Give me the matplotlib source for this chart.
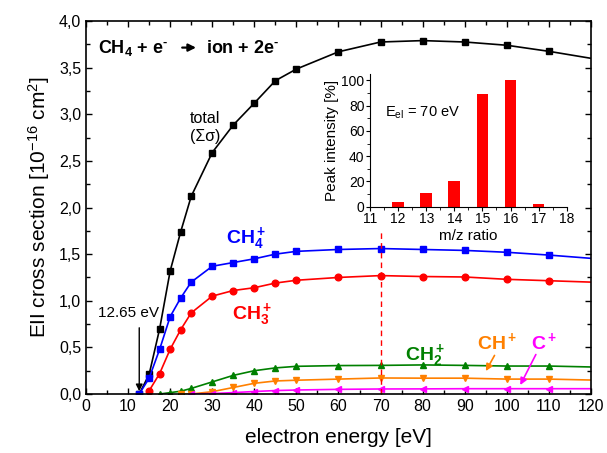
import matplotlib
matplotlib.use("Agg")
import matplotlib.pyplot as plt
from matplotlib.ticker import MultipleLocator, FuncFormatter

plt.rcParams["font.family"] = ["Liberation Sans", "DejaVu Sans"]
plt.rcParams["mathtext.default"] = "regular"

# electron impact ionisation cross sections of CH4 [1e-16 cm^2]
e_total = [12.65, 15, 17.5, 20, 22.5, 25, 30, 35, 40, 45, 50, 60, 70, 80, 90, 100, 110, 120]
sig_total = [0, 0.21, 0.70, 1.32, 1.74, 2.12, 2.59, 2.885, 3.12, 3.36, 3.485, 3.67, 3.775, 3.79,
             3.775, 3.74, 3.675, 3.60]

e_ch4 = [12.65, 15, 17.5, 20, 22.5, 25, 30, 35, 40, 45, 50, 60, 70, 80, 90, 100, 110, 120]
sig_ch4 = [0, 0.17, 0.48, 0.83, 1.03, 1.20, 1.37, 1.41, 1.45, 1.50, 1.53, 1.55, 1.56, 1.55,
           1.54, 1.52, 1.49, 1.455]

e_ch3 = [15, 17.5, 20, 22.5, 25, 30, 35, 40, 45, 50, 60, 70, 80, 90, 100, 110, 120]
sig_ch3 = [0.035, 0.22, 0.48, 0.69, 0.87, 1.05, 1.11, 1.14, 1.19, 1.22, 1.25, 1.27, 1.26,
           1.255, 1.23, 1.215, 1.20]

e_ch2 = [17.5, 20, 22.5, 25, 30, 35, 40, 45, 50, 60, 70, 80, 90, 100, 110, 120]
sig_ch2 = [0.0, 0.015, 0.03, 0.06, 0.13, 0.20, 0.25, 0.28, 0.297, 0.305, 0.307, 0.312, 0.307,
           0.30, 0.30, 0.29]

e_ch = [22.5, 25, 30, 35, 40, 45, 50, 60, 70, 80, 90, 100, 110, 120]
sig_ch = [0.0, 0.0, 0.025, 0.07, 0.115, 0.14, 0.148, 0.16, 0.172, 0.17, 0.17, 0.16, 0.16, 0.15]

e_c = [25, 30, 35, 40, 45, 50, 60, 70, 80, 90, 100, 110, 120]
sig_c = [0.0, 0.005, 0.015, 0.027, 0.037, 0.043, 0.05, 0.054, 0.055, 0.057, 0.057, 0.057, 0.057]

# mass spectrum at 70 eV
mz = [12, 13, 14, 15, 16, 17]
peak = [3.7, 10.8, 20.5, 89, 100, 2.1]

fig = plt.figure(figsize=(6.07, 4.53), dpi=100)
ax = fig.add_axes([0.1417, 0.1302, 0.8319, 0.8234])

series = [
    (e_total, sig_total, "black", "s", 4.2),
    (e_ch4, sig_ch4, "#0000ff", "s", 4.2),
    (e_ch3, sig_ch3, "#ff0000", "o", 4.8),
    (e_ch2, sig_ch2, "#008000", "^", 4.8),
    (e_ch, sig_ch, "#ff8000", "v", 4.8),
    (e_c, sig_c, "#ff00ff", "<", 4.8),
]
for x, y, col, m, ms in series:
    ax.plot(x, y, color=col, lw=1.2, marker=m, ms=ms, markevery=list(range(len(x) - 1)))

ax.vlines(70, 0, 1.74, colors="#ff0000", linestyles=(0, (4, 3)), lw=1)

ax.set_xlim(0, 120)
ax.set_ylim(0, 4.0)
ax.xaxis.set_major_locator(MultipleLocator(10))
ax.xaxis.set_minor_locator(MultipleLocator(5))
ax.yaxis.set_major_locator(MultipleLocator(0.5))
ax.yaxis.set_minor_locator(MultipleLocator(0.25))
ax.yaxis.set_major_formatter(FuncFormatter(lambda v, p: f"{v:.1f}".replace(".", ",")))
ax.tick_params(which="both", direction="in", top=True, right=True, labelsize=11.5, width=1)
ax.tick_params(which="major", length=4)
ax.tick_params(which="minor", length=3)
for s in ax.spines.values():
    s.set_linewidth(1.2)

ax.set_xlabel("electron energy [eV]", fontsize=15, labelpad=10)
ax.set_ylabel("EII cross section [10$^{-16}$ cm$^{2}$]", fontsize=15, labelpad=5)

# reaction equation, with a drawn arrow between the two halves
ax.text(2.8, 3.66, "CH$_4$ + e$^{‐}$", fontsize=13, fontweight="bold")
ax.annotate("", xy=(26.8, 3.715), xytext=(22.2, 3.715),
            arrowprops=dict(arrowstyle="-|>", color="black", lw=1.6, mutation_scale=11))
ax.text(28.4, 3.66, "ion + 2e$^{‐}$", fontsize=13, fontweight="bold")

ax.text(28.3, 2.86, "total\n(Σσ)", fontsize=11.5, ha="center", va="center", linespacing=1.3)
ax.text(38, 1.62, "CH$_4^+$", fontsize=14, fontweight="bold", color="#0000ff", ha="center")
ax.text(39.5, 0.80, "CH$_3^+$", fontsize=14, fontweight="bold", color="#ff0000", ha="center")
ax.text(80.5, 0.36, "CH$_2^+$", fontsize=14, fontweight="bold", color="#008000", ha="center")
ax.text(97.8, 0.48, "CH$^+$", fontsize=14, fontweight="bold", color="#ff8000", ha="center")
ax.text(109, 0.48, "C$^+$", fontsize=14, fontweight="bold", color="#ff00ff", ha="center")

ax.annotate("", xy=(94.7, 0.22), xytext=(97.4, 0.44),
            arrowprops=dict(arrowstyle="-|>", color="#ff8000", lw=1.2, mutation_scale=10))
ax.annotate("", xy=(102.9, 0.07), xytext=(107.2, 0.45),
            arrowprops=dict(arrowstyle="-|>", color="#ff00ff", lw=1.2, mutation_scale=10))
ax.annotate("", xy=(12.65, 0.0), xytext=(12.65, 0.74),
            arrowprops=dict(arrowstyle="-|>", color="black", lw=1.0, mutation_scale=10))
ax.text(10.2, 0.87, "12.65 eV", fontsize=11, ha="center", va="center")

# inset: mass spectrum
ins = fig.add_axes([0.6096, 0.5437, 0.324, 0.2929])
ins.bar(mz, peak, width=0.42, color="#ff0000")
ins.set_xlim(11, 18)
ins.set_ylim(0, 105)
ins.spines["top"].set_visible(False)
ins.spines["right"].set_visible(False)
ins.xaxis.set_major_locator(MultipleLocator(1))
ins.xaxis.set_minor_locator(MultipleLocator(0.5))
ins.yaxis.set_major_locator(MultipleLocator(20))
ins.yaxis.set_minor_locator(MultipleLocator(10))
ins.tick_params(which="both", direction="out", labelsize=10, pad=1)
ins.tick_params(which="major", length=3)
ins.tick_params(which="minor", length=2)
ins.set_xlabel("m/z ratio", fontsize=11, labelpad=2)
ins.set_ylabel("Peak intensity [%]", fontsize=11, labelpad=2)
ins.text(11.55, 71, "E$_{el}$ = 70 eV", fontsize=10.5)

fig.savefig("out.png", dpi=100)
